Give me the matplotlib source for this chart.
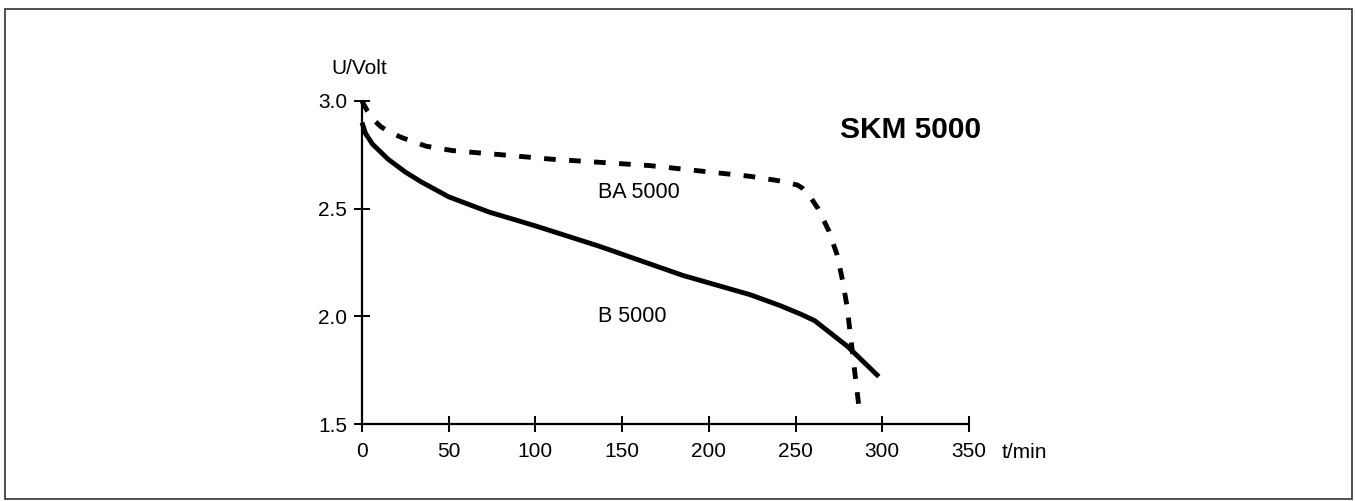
import matplotlib
matplotlib.use("Agg")
import matplotlib.pyplot as plt
from matplotlib.patches import Rectangle

plt.rcParams['font.family'] = ['Liberation Sans', 'DejaVu Sans']

# Discharge curves
t_b5000 = [0, 2, 6, 15, 25, 34, 50, 73, 100, 137, 185, 224, 241, 253, 261, 280, 298]
u_b5000 = [2.90, 2.85, 2.80, 2.73, 2.67, 2.625, 2.555, 2.485, 2.42, 2.325, 2.19, 2.10,
           2.05, 2.01, 1.98, 1.86, 1.72]

t_ba5000 = [0, 3, 7, 11, 16, 23, 37, 52, 66, 81, 109, 166, 224, 240, 251, 254, 258,
            263, 269, 274, 277, 279.6, 281.4, 284, 287]
u_ba5000 = [3.00, 2.955, 2.91, 2.88, 2.855, 2.83, 2.79, 2.77, 2.76, 2.75, 2.73, 2.70,
            2.65, 2.63, 2.61, 2.595, 2.56, 2.50, 2.40, 2.285, 2.17, 2.05, 1.93, 1.75,
            1.55]

x_ticks = [0, 50, 100, 150, 200, 250, 300, 350]
y_ticks = [1.5, 2.0, 2.5, 3.0]
y_tick_labels = ['1.5', '2.0', '2.5', '3.0']

W, H = 1355, 501
fig = plt.figure(figsize=(W / 100, H / 100), dpi=100)
ax = fig.add_axes([362 / W, 1 - 424 / H, (969 - 362) / W, (424 - 101) / H])

ax.plot(t_b5000, u_b5000, color='black', lw=3.5, solid_capstyle='butt',
        solid_joinstyle='round', clip_on=False)
ax.plot(t_ba5000, u_ba5000, color='black', lw=3.5, dashes=[2.4, 2.75],
        dash_capstyle='butt', clip_on=False)

ax.set_xlim(0, 350)
ax.set_ylim(1.5, 3.0)
ax.set_xticks(x_ticks)
ax.set_xticklabels([str(v) for v in x_ticks])
ax.set_yticks(y_ticks)
ax.set_yticklabels(y_tick_labels)

for side in ['top', 'right']:
    ax.spines[side].set_visible(False)
for side in ['left', 'bottom']:
    ax.spines[side].set_linewidth(1.6)

ax.tick_params(axis='both', direction='inout', length=11.5, width=1.4,
               labelsize=15, colors='black')
ax.tick_params(axis='x', pad=7)
ax.tick_params(axis='y', pad=5)

ax.text(136, 2.573, 'BA 5000', fontsize=15.5, ha='left', va='center')
ax.text(136, 1.998, 'B 5000', fontsize=15.5, ha='left', va='center')
ax.text(275.5, 2.866, 'SKM 5000', fontsize=21.5, fontweight='bold', ha='left', va='center')

fig.text(1002 / W, 1 - 452 / H, 't/min', fontsize=15, ha='left', va='center')
fig.text(331 / W, 1 - 68 / H, 'U/Volt', fontsize=15, ha='left', va='center')

# Frame round the whole picture
fig.patches.append(Rectangle((5 / W, 1 - 499 / H), (1352 - 5) / W, (499 - 9) / H,
                             transform=fig.transFigure, fill=False,
                             edgecolor='#333333', lw=1.2))

fig.savefig('out.png', dpi=100)
